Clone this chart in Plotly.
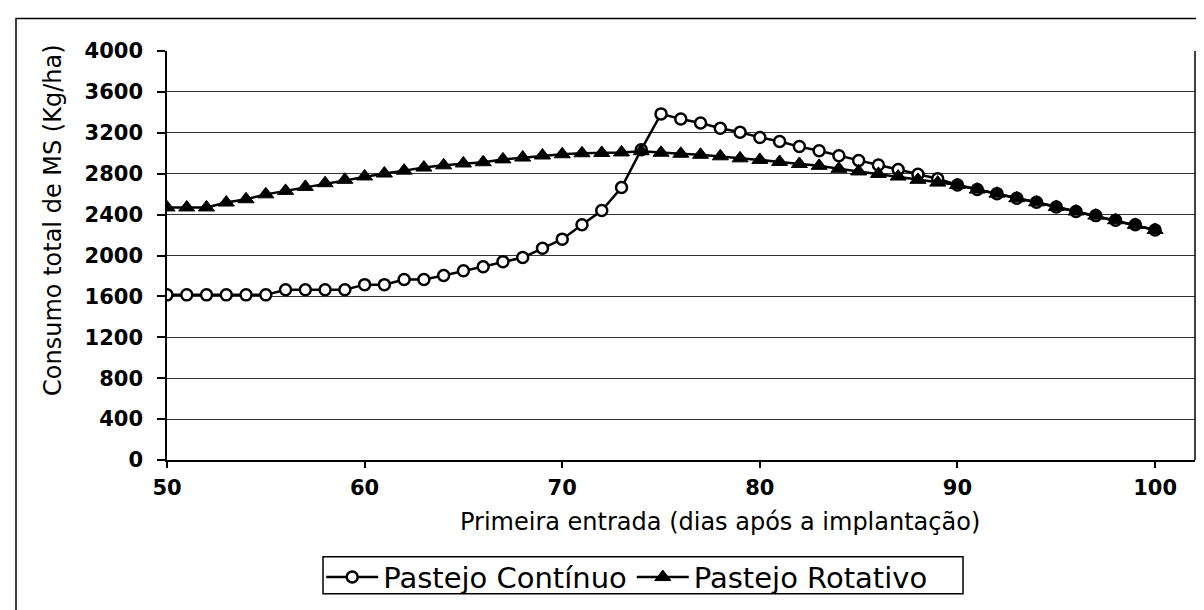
import plotly.graph_objects as go

# dias apos a implantacao (primeira entrada)
dias = list(range(50, 101))

# consumo total de MS (kg/ha) - pastejo continuo
continuo = [1615, 1615, 1615, 1615, 1615, 1615, 1665, 1665, 1665, 1665,
            1715, 1715, 1765, 1765, 1805, 1850, 1890, 1940, 1980, 2070,
            2160, 2300, 2440, 2665, 3035, 3385, 3335, 3295, 3245, 3205,
            3155, 3115, 3065, 3025, 2975, 2930, 2885, 2840, 2795, 2750,
            2690, 2645, 2605, 2560, 2520, 2475, 2430, 2390, 2345, 2300,
            2250]

# consumo total de MS (kg/ha) - pastejo rotativo
rotativo = [2470, 2470, 2470, 2518, 2550, 2598, 2632, 2671, 2707, 2740,
            2773, 2802, 2830, 2860, 2882, 2900, 2912, 2940, 2958, 2978,
            2990, 3000, 3003, 3008, 3020, 3005, 2995, 2985, 2970, 2950,
            2935, 2915, 2895, 2877, 2848, 2822, 2798, 2772, 2740, 2713,
            2690, 2645, 2605, 2560, 2520, 2475, 2430, 2390, 2345, 2300,
            2250]

x_ticks = [50, 60, 70, 80, 90, 100]
y_ticks = [0, 400, 800, 1200, 1600, 2000, 2400, 2800, 3200, 3600, 4000]

FONT = 'DejaVu Sans, Arial'


def px_x(p):
    # pixel -> paper (horizontal)
    return (p - 159) / 1028


def px_y(p):
    # pixel -> paper (vertical)
    return (451.5 - p) / 408


fig = go.Figure()
fig.add_trace(go.Scatter(x=dias, y=continuo, name='Pastejo Contínuo', mode='lines+markers',
                         line=dict(color='black', width=2.5),
                         marker=dict(symbol='circle', size=11, color='white',
                                     line=dict(color='black', width=2.5))))
fig.add_trace(go.Scatter(x=dias, y=rotativo, name='Pastejo Rotativo', mode='lines+markers',
                         line=dict(color='black', width=2.5),
                         marker=dict(symbol='triangle-up', size=14, color='black',
                                     line=dict(color='black', width=1))))

fig.update_layout(
    width=1204, height=610,
    margin=dict(l=159, r=17, t=43, b=158, autoexpand=False),
    paper_bgcolor='white', plot_bgcolor='white',
    font=dict(family=FONT, color='black'),
    showlegend=True,
    legend=dict(orientation='h', x=0.15, y=px_y(543), xanchor='left', yanchor='top',
                font=dict(size=29), borderwidth=0, itemwidth=52, tracegroupgap=0,
                bgcolor='rgba(0,0,0,0)'),
)
fig.update_xaxes(range=[50, 102.02], tickvals=x_ticks, showgrid=False,
                 showline=True, linecolor='black', linewidth=1.5, mirror=False,
                 ticks='outside', ticklen=6, tickcolor='black', tickwidth=1.5,
                 ticklabelstandoff=2, zeroline=False,
                 tickfont=dict(size=21, family=FONT, weight='bold'))
fig.update_yaxes(range=[0, 4000], tickvals=y_ticks, showgrid=True, gridcolor='#333333',
                 gridwidth=1, showline=True, linecolor='black', linewidth=1.5,
                 ticks='outside', ticklen=8, tickcolor='black', tickwidth=1.5,
                 ticklabelstandoff=10, zeroline=False,
                 tickfont=dict(size=21, family=FONT, weight='bold'))

# borda direita da area do grafico
fig.add_shape(type='line', xref='paper', yref='paper', x0=1, x1=1, y0=0, y1=1,
              line=dict(color='black', width=1.5))
# moldura externa
fig.add_shape(type='rect', xref='paper', yref='paper',
              x0=px_x(8), x1=px_x(1199), y0=px_y(604), y1=px_y(11),
              line=dict(color='black', width=1.5), layer='below')
# caixa da legenda
fig.add_shape(type='rect', xref='paper', yref='paper',
              x0=px_x(315), x1=px_x(955), y0=px_y(585), y1=px_y(548),
              line=dict(color='black', width=1.5), fillcolor='white', layer='below')

fig.add_annotation(text='Primeira entrada (dias após a implantação)', xref='paper', yref='paper',
                   x=0.538, y=px_y(513), xanchor='center', yanchor='middle', showarrow=False,
                   font=dict(size=24))
fig.add_annotation(text='Consumo total de MS (Kg/ha)', xref='paper', yref='paper',
                   x=px_x(45), y=px_y(213), xanchor='center', yanchor='middle', showarrow=False,
                   textangle=-90, font=dict(size=24))

fig.write_html('out.html')
